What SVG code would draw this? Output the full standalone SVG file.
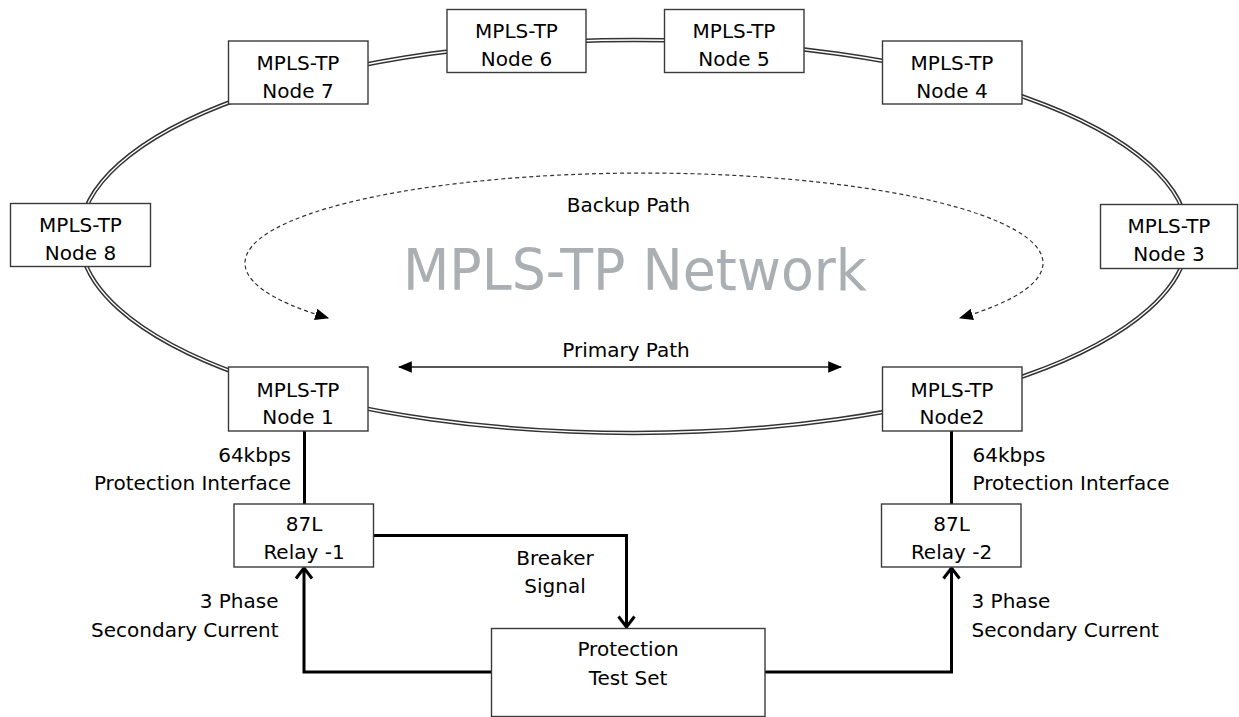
<svg xmlns="http://www.w3.org/2000/svg" width="1239" height="717" viewBox="0 0 1239 717">
<style>
  text { font-family: "DejaVu Sans", "Liberation Sans", sans-serif; font-size: 20px; fill: #000; }
  .c { text-anchor: middle; }
  .r { text-anchor: end; }
  .box { fill: #fff; stroke: #3a3a3a; stroke-width: 1.4; }
  .ringOuter { fill: none; stroke: #333; stroke-width: 4.4; }
  .ringInner { fill: none; stroke: #fff; stroke-width: 1.4; }
  .dash { fill: none; stroke: #333; stroke-width: 1.2; stroke-dasharray: 4 3; }
  .thin { fill: none; stroke: #555; stroke-width: 1.8; }
  .thick { fill: none; stroke: #000; stroke-width: 3; }
  .title { font-size: 57px; fill: #a9afb2; }
</style>
<defs>
  <marker id="fillHead" markerUnits="userSpaceOnUse" markerWidth="14" markerHeight="12" refX="11" refY="5" orient="auto-start-reverse" viewBox="0 0 12 10">
    <path d="M0 0 L12 5 L0 10 Z" fill="#000"/>
  </marker>
  <marker id="openHead" markerUnits="userSpaceOnUse" markerWidth="20" markerHeight="20" refX="12" refY="10" orient="auto" viewBox="0 0 20 20">
    <path d="M1.5 2 L12 10 L1.5 18" fill="none" stroke="#000" stroke-width="3" stroke-linejoin="miter"/>
  </marker>
</defs>

<g id="ring">
  <ellipse class="ringOuter" cx="634" cy="236.5" rx="554" ry="196.5"/>
  <ellipse class="ringInner" cx="634" cy="236.5" rx="554" ry="196.5"/>
</g>

<g id="connectors">
  <path class="dash" d="M 328 318 A 399 90 0 1 1 960 318" marker-start="url(#fillHead)" marker-end="url(#fillHead)"/>
  <line class="thin" x1="399" y1="367" x2="841" y2="367" marker-start="url(#fillHead)" marker-end="url(#fillHead)"/>
  <line class="thick" x1="304.5" y1="431" x2="304.5" y2="504"/>
  <line class="thick" x1="951.5" y1="431" x2="951.5" y2="504"/>
  <polyline class="thick" points="373,535.5 626.5,535.5 626.5,627" marker-end="url(#openHead)"/>
  <polyline class="thick" points="491.5,672 304,672 304,568" marker-end="url(#openHead)"/>
  <polyline class="thick" points="765,672 951.5,672 951.5,568" marker-end="url(#openHead)"/>
</g>

<g id="labels">
  <text class="title c" x="635" y="290" textLength="464" lengthAdjust="spacingAndGlyphs">MPLS-TP Network</text>
  <text class="c" x="628.5" y="211.5">Backup Path</text>
  <text class="c" x="626" y="357">Primary Path</text>
  <text class="r" x="291" y="461.5">64kbps</text>
  <text class="r" x="291" y="490">Protection Interface</text>
  <text x="972.5" y="461.5">64kbps</text>
  <text x="972.5" y="490">Protection Interface</text>
  <text class="c" x="555" y="565">Breaker</text>
  <text class="c" x="555" y="593">Signal</text>
  <text class="r" x="278.5" y="608">3 Phase</text>
  <text class="r" x="278.5" y="636.5">Secondary Current</text>
  <text x="971.5" y="608">3 Phase</text>
  <text x="971.5" y="636.5">Secondary Current</text>
</g>

<g id="node6">
  <rect class="box" x="447" y="9.5" width="139" height="63"/>
  <text class="c" x="516.5" y="38">MPLS-TP</text>
  <text class="c" x="516.5" y="66">Node 6</text>
</g>
<g id="node5">
  <rect class="box" x="664.5" y="9.5" width="139.5" height="63"/>
  <text class="c" x="734" y="38">MPLS-TP</text>
  <text class="c" x="734" y="66">Node 5</text>
</g>
<g id="node7">
  <rect class="box" x="228.5" y="41" width="139.5" height="63"/>
  <text class="c" x="298" y="69.5">MPLS-TP</text>
  <text class="c" x="298" y="97.5">Node 7</text>
</g>
<g id="node4">
  <rect class="box" x="882.5" y="41" width="139.5" height="63"/>
  <text class="c" x="952" y="69.5">MPLS-TP</text>
  <text class="c" x="952" y="97.5">Node 4</text>
</g>
<g id="node8">
  <rect class="box" x="10.5" y="203.5" width="140" height="63"/>
  <text class="c" x="80.5" y="232">MPLS-TP</text>
  <text class="c" x="80.5" y="260">Node 8</text>
</g>
<g id="node3">
  <rect class="box" x="1100.5" y="204.5" width="137" height="64"/>
  <text class="c" x="1169" y="233">MPLS-TP</text>
  <text class="c" x="1169" y="261">Node 3</text>
</g>
<g id="node1">
  <rect class="box" x="228.5" y="367" width="139.5" height="64"/>
  <text class="c" x="298" y="396.5">MPLS-TP</text>
  <text class="c" x="298" y="424">Node 1</text>
</g>
<g id="node2">
  <rect class="box" x="882.5" y="367" width="139.5" height="64"/>
  <text class="c" x="952" y="396.5">MPLS-TP</text>
  <text class="c" x="952" y="424">Node2</text>
</g>
<g id="relay1">
  <rect class="box" x="234" y="504" width="139.5" height="63"/>
  <text class="c" x="304" y="531">87L</text>
  <text class="c" x="304" y="559">Relay -1</text>
</g>
<g id="relay2">
  <rect class="box" x="881.5" y="504" width="139.5" height="63"/>
  <text class="c" x="951.5" y="531">87L</text>
  <text class="c" x="951.5" y="559">Relay -2</text>
</g>
<g id="testset">
  <rect class="box" x="491.5" y="628.5" width="273.5" height="88"/>
  <text class="c" x="628" y="656">Protection</text>
  <text class="c" x="628" y="684.5">Test Set</text>
</g>
</svg>
